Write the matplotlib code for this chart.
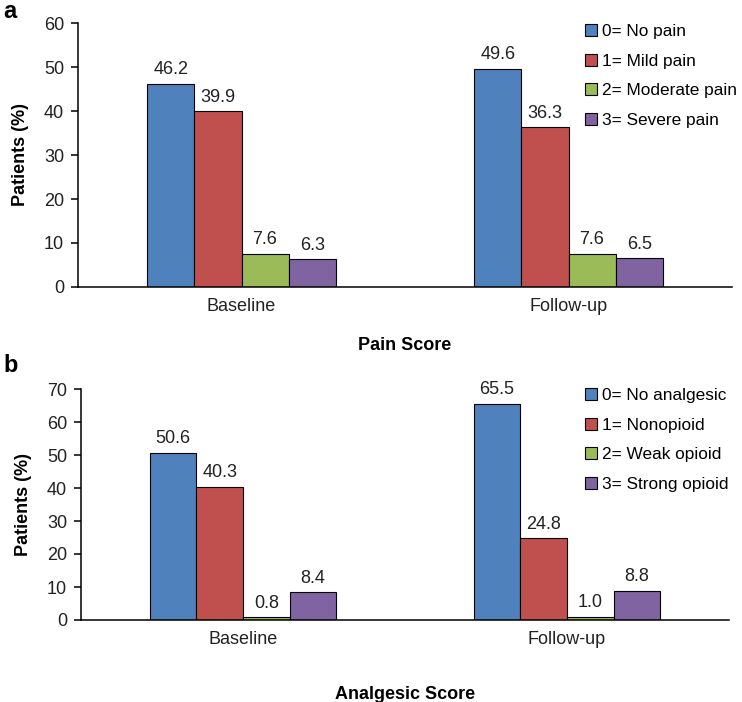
import matplotlib
matplotlib.use("Agg")
import matplotlib.pyplot as plt
import numpy as np

plt.rcParams['font.family'] = ['Liberation Sans Narrow', 'Liberation Sans', 'DejaVu Sans']

# Data
groups = ['Baseline', 'Follow-up']
colors = ['#4F81BD', '#C0504D', '#9BBB59', '#8064A2']

pain_labels = ['0= No pain', '1= Mild pain', '2= Moderate pain', '3= Severe pain']
pain_values = [[46.2, 49.6], [39.9, 36.3], [7.6, 7.6], [6.3, 6.5]]

analg_labels = ['0= No analgesic', '1= Nonopioid', '2= Weak opioid', '3= Strong opioid']
analg_values = [[50.6, 65.5], [40.3, 24.8], [0.8, 1.0], [8.4, 8.8]]

W, H = 742, 702
fig = plt.figure(figsize=(W / 100, H / 100), dpi=100)


def draw_panel(rect, labels, values, ymax, xlabel, xlabelpad, legend_xy, letter, letter_y):
    ax = fig.add_axes(rect)
    x = np.arange(len(groups))
    width = 0.144
    handles = []
    for i, (lab, vals) in enumerate(zip(labels, values)):
        pos = x + (i - 1.5) * width
        bars = ax.bar(pos, vals, width, color=colors[i], edgecolor='black',
                      linewidth=0.8, label=lab)
        handles.append(bars)
        for p, v in zip(pos, vals):
            ax.annotate(f'{v:.1f}', (p, v), xytext=(0, 4), textcoords='offset points',
                        ha='center', va='bottom', fontsize=13, color='#222222')
    ax.set_xlim(-0.5, 1.5)
    ax.set_ylim(0, ymax)
    ax.set_yticks(np.arange(0, ymax + 1, 10))
    ax.set_xticks(x)
    ax.set_xticklabels(groups)
    for s in ['top', 'right']:
        ax.spines[s].set_visible(False)
    for s in ['left', 'bottom']:
        ax.spines[s].set_linewidth(1.1)
    ax.tick_params(axis='x', length=0, pad=8, labelsize=13, labelcolor='#222222')
    ax.tick_params(axis='y', length=5, width=1.1, pad=5, labelsize=13, labelcolor='#222222')
    ax.set_ylabel('Patients (%)', fontsize=13, fontweight='bold', labelpad=11,
                  family=['Liberation Sans', 'DejaVu Sans'])
    ax.set_xlabel(xlabel, fontsize=13, fontweight='bold', labelpad=xlabelpad,
                  family=['Liberation Sans', 'DejaVu Sans'])
    fig.legend(handles=handles, loc='upper left', bbox_to_anchor=legend_xy,
               frameon=False, fontsize=12.4, handlelength=0.7, handleheight=0.7,
               handletextpad=0.3, labelspacing=0.85, borderpad=0, borderaxespad=0)
    fig.text(3 / W, 1 - letter_y / H, letter, fontsize=17, fontweight='bold',
             va='center', ha='left', family=['Liberation Sans', 'DejaVu Sans'])
    return ax


draw_panel([78 / W, 1 - 287 / H, 654 / W, 264 / H], pain_labels, pain_values, 60,
           'Pain Score', 16, (585 / W, 1 - 24 / H), 'a', 12)
draw_panel([81 / W, 1 - 620 / H, 648 / W, 231 / H], analg_labels, analg_values, 70,
           'Analgesic Score', 27, (585 / W, 1 - 388 / H), 'b', 366)

fig.savefig('out.png', dpi=100)
